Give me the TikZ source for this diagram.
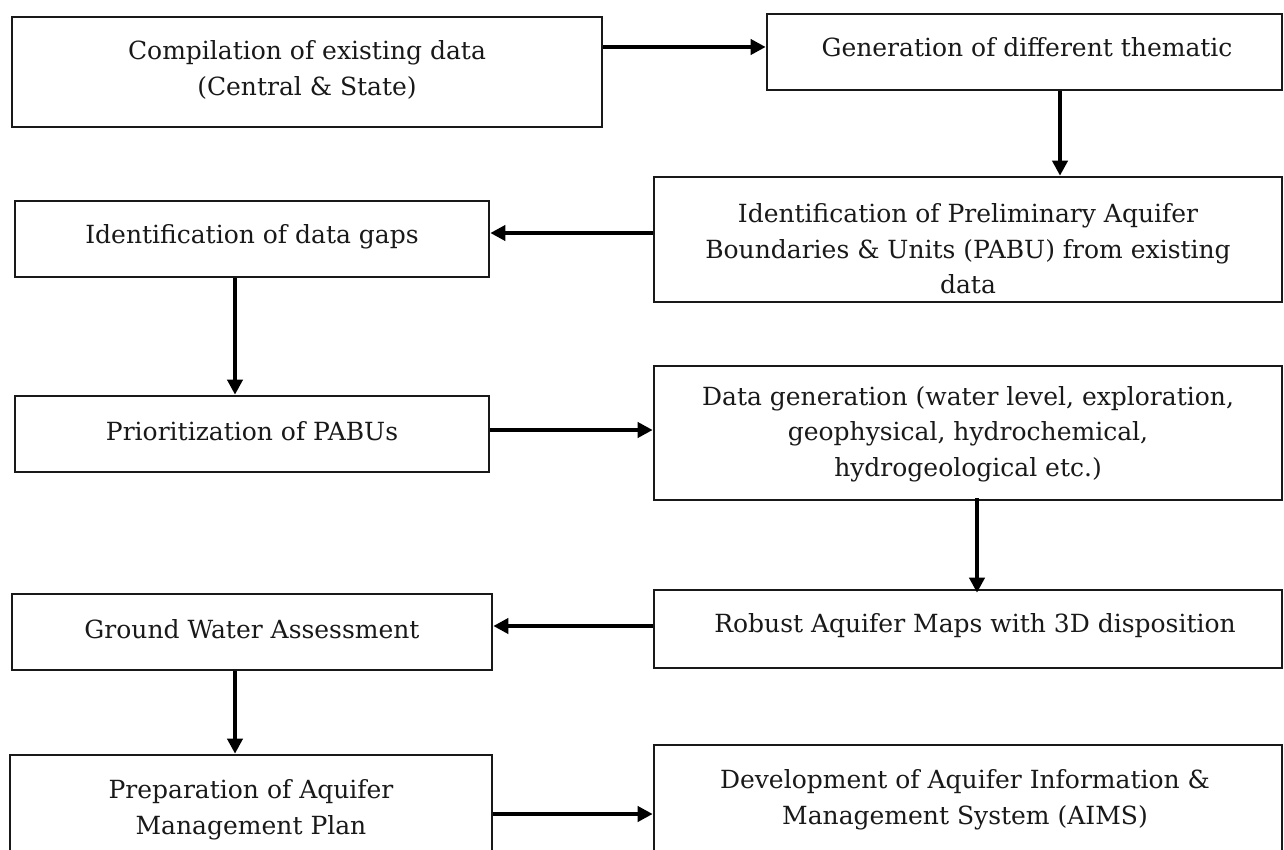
\documentclass[tikz,border=0pt]{standalone}
\usepackage{fontspec}
\setmainfont{DejaVu Serif}
\usetikzlibrary{arrows.meta}
\begin{document}
\begin{tikzpicture}[x=1pt,y=-1pt,
  box/.style={draw=black!90,line width=2.6pt,rectangle,minimum width=#1,inner sep=0pt},
  txt/.style={align=center,font=\fontsize{25}{35.5}\selectfont,text=black!90,inner sep=0pt},
  conn/.style={line width=4pt,-{Triangle[length=15pt,width=15pt]},black}]
\useasboundingbox (0,0) rectangle (1284,850);
\fill[white] (0,0) rectangle (1284,850);
\clip (0,0) rectangle (1284,850);
% boxes
\node[box=590pt,minimum height=110pt] (b1) at (307,72) {};
\node[box=515pt,minimum height=76pt] (b2) at (1024.5,52) {};
\node[box=628pt,minimum height=125pt] (b3) at (968,239.5) {};
\node[box=474pt,minimum height=76pt] (b4) at (252,239) {};
\node[box=474pt,minimum height=76pt] (b5) at (252,434) {};
\node[box=628pt,minimum height=134pt] (b6) at (968,433) {};
\node[box=628pt,minimum height=78pt] (b7) at (968,629) {};
\node[box=480pt,minimum height=76pt] (b8) at (252,632) {};
\node[box=482pt,minimum height=115pt] (b9) at (251,812.5) {};
\node[box=628pt,minimum height=125pt] (b10) at (968,807.5) {};
% texts
\node[txt] (t1) at (307,70) {Compilation of existing data\\(Central \& State)};
\node[txt] (t2) at (1027,47) {Generation of different thematic};
\node[txt] (t3) at (968,249) {Identification of Preliminary Aquifer\\Boundaries \& Units (PABU) from existing\\data};
\node[txt] (t4) at (252,237) {Identification of data gaps};
\node[txt] (t5) at (252,431) {Prioritization of PABUs};
\node[txt] (t6) at (968,434) {Data generation (water level, exploration,\\geophysical, hydrochemical,\\hydrogeological etc.)};
\node[txt] (t7) at (975,626) {Robust Aquifer Maps with 3D disposition};
\node[txt] (t8) at (252,629) {Ground Water Assessment};
\node[txt] (t9) at (251,810) {Preparation of Aquifer\\Management Plan};
\node[txt] (t10) at (965,800) {Development of Aquifer Information \&\\Management System (AIMS)};
% anchor coordinates
\coordinate (a1) at (0,47);
\coordinate (a2) at (1060,0);
\coordinate (a3) at (0,233);
\coordinate (a4) at (235,0);
\coordinate (a5) at (0,430);
\coordinate (a6) at (977,0);
\coordinate (a7) at (0,626);
\coordinate (a9) at (0,814);
% connectors
\draw[conn] (b1.east |- a1) -- (b2.west |- a1);
\draw[conn] (b2.south -| a2) -- (b3.north -| a2);
\draw[conn] (b3.west |- a3) -- (b4.east |- a3);
\draw[conn] (b4.south -| a4) -- (b5.north -| a4);
\draw[conn] (b5.east |- a5) -- (b6.west |- a5);
\draw[conn] ([yshift=3pt]b6.south -| a6) -- ([yshift=-4pt]b7.north -| a6);
\draw[conn] (b7.west |- a7) -- (b8.east |- a7);
\draw[conn] (b8.south -| a4) -- (b9.north -| a4);
\draw[conn] (b9.east |- a9) -- (b10.west |- a9);
\end{tikzpicture}
\end{document}
